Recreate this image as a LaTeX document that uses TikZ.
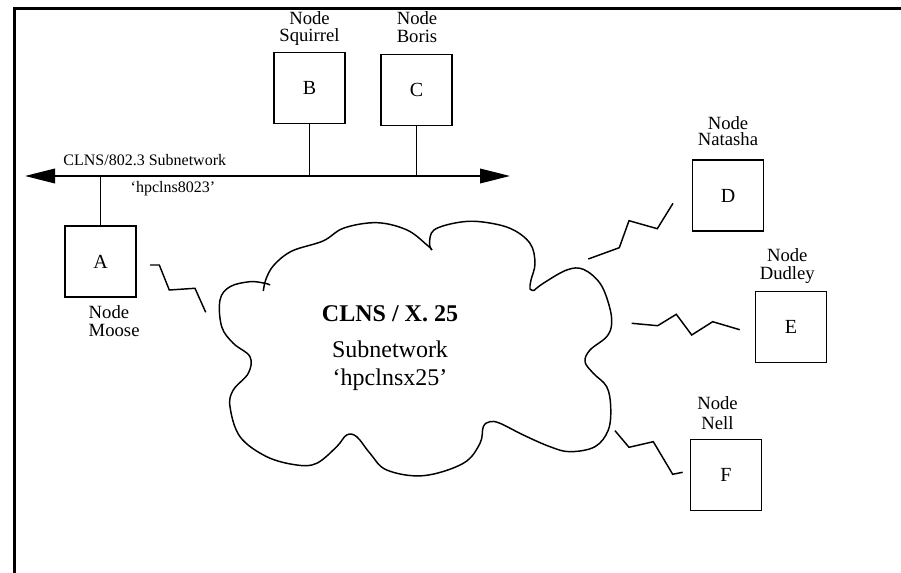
\documentclass[tikz,border=0pt]{standalone}
\usepackage{fontspec}
\setmainfont{Liberation Serif}
\usetikzlibrary{arrows.meta}
\begin{document}
\begin{tikzpicture}[x=0.75pt,y=-0.75pt,line width=1.1pt,
  box/.style={draw,line width=1.1pt,minimum width=53pt,minimum height=53pt,inner sep=0pt,font=\fontsize{15}{15}\selectfont},
  lbl/.style={align=center,inner sep=0pt,anchor=base,font=\fontsize{14}{#1}\selectfont},
  lbl/.default=13,
  wire/.style={line width=1.1pt,line join=miter},
  netarrow/.style={line width=1.1pt,{Triangle[length=22.5pt,width=11pt]}-{Triangle[length=22.5pt,width=11pt]}},
  cloudline/.style={line width=1.1pt,smooth,tension=0.6}]
\useasboundingbox (0,0) rectangle (901,573);
% frame
\draw[line width=2.25pt,line join=miter] (901,8.5) -- (14,8.5) -- (14,573);
% Ethernet bar
\coordinate (barL) at (25,176);
\coordinate (barR) at (510,176);
\draw[netarrow] (barL) -- (barR);
\node[anchor=base west,inner sep=0pt,font=\fontsize{12}{12}\selectfont] (ethname) at (62.7,166) {CLNS/802.3 Subnetwork};
\node[anchor=base west,inner sep=0pt,font=\fontsize{12}{12}\selectfont] (ethid) at (130,193) {‘hpclns8023’};
% boxes
\node[box] (A) at (100.5,261.5) {A};
\node[box] (B) at (309.5,88) {B};
\node[box] (C) at (416.5,90) {C};
\node[box] (D) at (728,195.5) {D};
\node[box] (E) at (791,327) {E};
\node[box] (F) at (726,475) {F};
% taps
\draw[wire] (A.north) -- (A.north |- barL);
\draw[wire] (B.south) -- (B.south |- barL);
\draw[wire] (C.south) -- (C.south |- barL);
% labels (anchored at the baseline of the last line)
\node[lbl=12.6] (lB) at (309.5,41.7) {Node\\Squirrel};
\node[lbl=13.3] (lC) at (417,42.7) {Node\\Boris};
\node[lbl=12.6] (lD) at (728,146) {Node\\Natasha};
\node[lbl=13.2] (lE) at (787.3,279.3) {Node\\Dudley};
\node[lbl=15] (lF) at (717.5,430) {Node\\Nell};
\node[lbl=13.5,align=left,anchor=base west] (lA) at (88,336.7) {Node\\Moose};
% cloud
\draw[cloudline] plot coordinates {(263.3,291) (266,279) (274,265) (292,251) (323,241) (344,228) (377,222.7) (407,230) (427,245) (432,250)};
\draw[cloudline] plot coordinates {(431.7,250) (429.5,243) (434,230) (456.7,222.7) (480,221.7) (510,228.3) (530,243.3) (535,263.3) (531,280) (530,289) (534,290.5)};
\draw[cloudline] plot coordinates {(534,290.5) (543.3,283.3) (566.7,270) (583.3,269.3) (600,283.3) (609,305) (611.7,323.3) (606.7,336.7) (590,350) (585,361.7) (593.3,373.3) (606.7,386.7) (610.7,406.7) (608.3,430) (595,446.7) (570,451.7) (550,446.7) (523.3,435) (500,423.3) (490,421.7) (483.3,426.7) (480,443.3) (463.3,463.3) (423.3,475.7) (386.7,470) (370,453.3) (356.7,436.7) (346.7,435) (336.7,446.7) (316.7,463.3) (296.7,465) (266.7,456.7) (240,436.7) (230,406.7) (233.3,390) (248.3,373.3) (250,356.7) (233.3,343.3) (221.7,326.7) (220,300) (230,286.7) (250,281.7) (265,283.3) (270,285)};
\node[align=center,inner sep=0pt,font=\fontsize{18}{21}\selectfont] (x25) at (390,348) {\textbf{CLNS / X. 25}\\[6pt]Subnetwork\\‘hpclnsx25’};
% serial links
\draw[wire] (150,265) -- (159.3,265) -- (169.3,290) -- (195,288.3) -- (205.7,312.3);
\draw[wire] (588.3,259) -- (619.3,247.7) -- (629,220.7) -- (657.3,228.7) -- (673,203.3);
\draw[wire] (631.7,323.3) -- (657.7,325.7) -- (676.3,314.3) -- (691.7,335) -- (712.7,321.7) -- (739.7,329.7);
\draw[wire] (615,430.7) -- (629,447.3) -- (653.3,441.7) -- (672.7,474.3) -- (682.7,472.3);
\end{tikzpicture}
\end{document}
